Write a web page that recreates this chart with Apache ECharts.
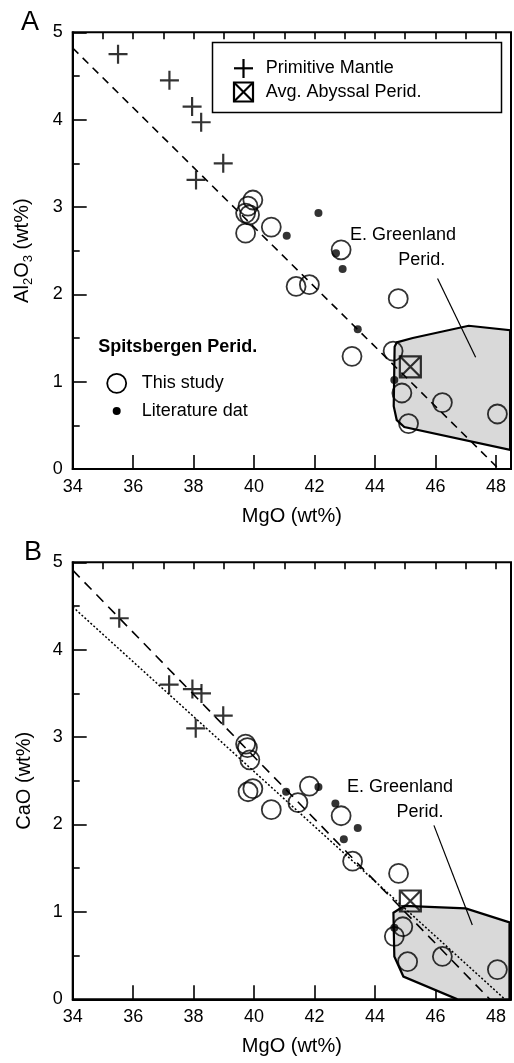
<!DOCTYPE html>
<html>
<head>
<meta charset="utf-8">
<script src="https://cdn.jsdelivr.net/npm/echarts@6/dist/echarts.min.js"></script>
<style>
  html, body { margin: 0; padding: 0; background: #fff; }
  #chart { width: 514px; height: 1063px; }
</style>
</head>
<body>
<div id="chart"></div>
<script>
// ---- panel A: Al2O3 vs MgO ----
const crossesA = [[35.5, 4.75], [37.2, 4.45], [37.95, 4.15], [38.25, 3.97], [38.98, 3.5], [38.08, 3.31]]
const abyssalA = [[45.17, 1.17]]
const circlesA = [
  [39.96, 3.08], [39.8, 3.01], [39.72, 2.93], [39.85, 2.91], [39.72, 2.7], [40.57, 2.77],
  [42.88, 2.51], [41.39, 2.09], [41.83, 2.11], [44.77, 1.95], [43.24, 1.29], [44.6, 1.35],
  [44.89, 0.87], [45.11, 0.52], [46.23, 0.76], [48.05, 0.63]
]
const dotsA = [[42.13, 2.93], [41.08, 2.67], [42.71, 2.47], [42.93, 2.29], [43.43, 1.6], [44.64, 1.02]]
const trendA = [[34, 4.82], [48.1, 0]]
const greenlandA = [
  [44.72, 1.45], [45.25, 1.5], [47.1, 1.64], [48.47, 1.59], [48.47, 0.22],
  [44.97, 0.48], [44.72, 0.56], [44.62, 0.72], [44.65, 1.4]
]
const leaderA = [[46.07, 2.18], [47.33, 1.28]]

// ---- panel B: CaO vs MgO ----
const crossesB = [[35.54, 4.36], [37.19, 3.6], [37.96, 3.55], [38.26, 3.5], [38.98, 3.245], [38.07, 3.1]]
const abyssalB = [[45.17, 1.125]]
const circlesB = [
  [39.72, 2.92], [39.78, 2.88], [39.86, 2.74], [39.8, 2.375], [39.96, 2.41], [40.57, 2.17],
  [41.45, 2.25], [41.83, 2.44], [42.88, 2.1], [43.26, 1.58], [44.78, 1.44], [44.64, 0.72],
  [44.92, 0.83], [45.08, 0.43], [46.23, 0.49], [48.05, 0.34]
]
const dotsB = [[41.06, 2.375], [42.13, 2.43], [42.69, 2.24], [43.43, 1.96], [42.97, 1.83], [44.64, 0.82]]
const trendDashB = [[34, 4.91], [47.8, 0]]
const trendDotB = [[34, 4.49], [48.3, 0]]
const greenlandB = [
  [44.61, 0.99], [44.97, 1.07], [47.0, 1.04], [48.45, 0.88], [48.45, 0],
  [46.73, 0], [44.94, 0.26], [44.64, 0.49]
]
const leaderB = [[45.95, 1.99], [47.22, 0.85]]

// axes
const mgoRange = [34, 48.5]
const oxideRange = [0, 5]

const FONT = '"Liberation Sans", Arial, Helvetica, sans-serif'
const crossPath = 'path://M5,0L5,10M0,5L10,5'
const boxPath = 'path://M0,0L10,0L10,10L0,10Z M0,0L10,10 M10,0L0,10'

const chart = echarts.init(document.getElementById('chart'))

function xAxes(gridIndex) {
  return [
    {
      gridIndex,
      type: 'value',
      min: mgoRange[0],
      max: mgoRange[1],
      interval: 2,
      name: 'MgO (wt%)',
      nameLocation: 'middle',
      nameGap: 37,
      nameTextStyle: { color: '#000', fontSize: 20, fontFamily: FONT },
      axisLine: { lineStyle: { color: '#000', width: 2 } },
      axisTick: { inside: true, length: 14, lineStyle: { color: '#000', width: 1.6 } },
      axisLabel: {
        color: '#000', fontSize: 18, fontFamily: FONT, margin: 9,
        formatter: v => (v % 2 === 0 ? String(v) : '')
      },
      splitLine: { show: false }
    },
    {
      gridIndex,
      type: 'value',
      min: mgoRange[0],
      max: mgoRange[1],
      interval: 1,
      axisLine: { show: false },
      axisTick: { inside: true, length: 7, lineStyle: { color: '#000', width: 1.6 } },
      axisLabel: { show: false },
      splitLine: { show: false }
    }
  ]
}

function yAxis(gridIndex, name, rich) {
  return {
    gridIndex,
    type: 'value',
    min: oxideRange[0],
    max: oxideRange[1],
    interval: 1,
    name,
    nameLocation: 'middle',
    nameGap: 38,
    nameTextStyle: { color: '#000', fontSize: 20, fontFamily: FONT, rich },
    axisLine: { lineStyle: { color: '#000', width: 2 } },
    axisTick: { inside: true, length: 14, lineStyle: { color: '#000', width: 1.6 } },
    minorTick: { show: true, splitNumber: 2, length: 7, lineStyle: { color: '#000', width: 1.6 } },
    axisLabel: { color: '#000', fontSize: 18, fontFamily: FONT, margin: 10 },
    splitLine: { show: false }
  }
}

const subRich = {
  a: { fontSize: 20, fontFamily: FONT, color: '#000', lineHeight: 24 },
  s: { fontSize: 13, fontFamily: FONT, color: '#000', lineHeight: 13, verticalAlign: 'bottom' }
}

function polygonSeries(points, xIdx, yIdx) {
  return {
    type: 'custom',
    xAxisIndex: xIdx,
    yAxisIndex: yIdx,
    silent: true,
    z: 1,
    data: points,
    renderItem(params, api) {
      if (params.dataIndex !== 0) return null
      return {
        type: 'polygon',
        shape: { points: points.map(p => api.coord(p)) },
        style: { fill: '#d9d9d9', stroke: '#000', lineWidth: 2.2 }
      }
    }
  }
}

function lineSeries(data, xIdx, yIdx, type, width) {
  return {
    type: 'line',
    xAxisIndex: xIdx,
    yAxisIndex: yIdx,
    data,
    symbol: 'none',
    silent: true,
    z: 3,
    lineStyle: { color: '#000', width, type }
  }
}

function panelSeries(x, y, crosses, abyssal, circles, dots) {
  return [
    {
      type: 'scatter', xAxisIndex: x, yAxisIndex: y, data: circles, z: 4,
      symbol: 'circle', symbolSize: 19,
      itemStyle: { color: 'rgba(0,0,0,0)', borderColor: '#000', borderWidth: 1.8 }
    },
    {
      type: 'scatter', xAxisIndex: x, yAxisIndex: y, data: dots, z: 5,
      symbol: 'circle', symbolSize: 8,
      itemStyle: { color: '#000' }
    },
    {
      type: 'scatter', xAxisIndex: x, yAxisIndex: y, data: crosses, z: 5,
      symbol: crossPath, symbolSize: 19,
      itemStyle: { color: 'rgba(0,0,0,0)', borderColor: '#000', borderWidth: 2.2 }
    },
    {
      type: 'scatter', xAxisIndex: x, yAxisIndex: y, data: abyssal, z: 6,
      symbol: boxPath, symbolSize: 21,
      itemStyle: { color: 'rgba(0,0,0,0)', borderColor: '#000', borderWidth: 2.2 }
    }
  ]
}

function txt(text, x, y, opts = {}) {
  return {
    type: 'text',
    z: 100,
    style: {
      text, x, y,
      font: (opts.weight || 'normal') + ' ' + (opts.size || 18) + 'px ' + FONT,
      fill: '#000',
      align: opts.align || 'left',
      verticalAlign: 'middle'
    }
  }
}

function seg(x1, y1, x2, y2, w) {
  return { type: 'line', z: 100, shape: { x1, y1, x2, y2 }, style: { stroke: '#000', lineWidth: w || 2.2 } }
}

const graphics = [
  txt('A', 30, 23, { size: 27, align: 'center' }),
  txt('B', 33, 553, { size: 27, align: 'center' }),
  // legend box
  { type: 'rect', z: 100, shape: { x: 212.5, y: 42.5, width: 289, height: 70 }, style: { fill: '#fff', stroke: '#000', lineWidth: 1.5 } },
  seg(234, 68.3, 253, 68.3), seg(243.5, 59, 243.5, 78),
  txt('Primitive Mantle', 265.7, 68.3),
  { type: 'rect', z: 100, shape: { x: 234, y: 82.5, width: 19, height: 19 }, style: { fill: 'none', stroke: '#000', lineWidth: 2.2 } },
  seg(234, 82.5, 253, 101.5), seg(253, 82.5, 234, 101.5),
  txt('Avg. Abyssal Perid.', 265.7, 92),
  // Spitsbergen legend
  txt('Spitsbergen Perid.', 98.3, 346.7, { weight: 'bold' }),
  { type: 'circle', z: 100, shape: { cx: 116.7, cy: 383.3, r: 9.5 }, style: { fill: 'none', stroke: '#000', lineWidth: 1.8 } },
  txt('This study', 141.7, 383.3),
  { type: 'circle', z: 100, shape: { cx: 116.7, cy: 411, r: 4 }, style: { fill: '#000' } },
  txt('Literature dat', 141.7, 411),
  // field labels
  txt('E. Greenland', 403, 235, { align: 'center' }),
  txt('Perid.', 421.7, 260, { align: 'center' }),
  txt('E. Greenland', 400, 786.7, { align: 'center' }),
  txt('Perid.', 420, 811.7, { align: 'center' })
]

chart.setOption({
  animation: false,
  backgroundColor: '#fff',
  grid: [
    { left: 72.7, top: 32.3, width: 438.3, height: 436.7, show: true, borderColor: '#000', borderWidth: 2, backgroundColor: 'transparent' },
    { left: 72.7, top: 562.3, width: 438.3, height: 437, show: true, borderColor: '#000', borderWidth: 2, backgroundColor: 'transparent' }
  ],
  xAxis: [...xAxes(0), ...xAxes(1)],
  yAxis: [
    yAxis(0, '{a|Al}{s|2}{a|O}{s|3}{a| (wt%)}', subRich),
    yAxis(1, 'CaO (wt%)')
  ],
  graphic: graphics,
  series: [
    polygonSeries(greenlandA, 0, 0),
    lineSeries(trendA, 0, 0, [8, 6], 1.6),
    lineSeries(leaderA, 0, 0, 'solid', 1.2),
    ...panelSeries(0, 0, crossesA, abyssalA, circlesA, dotsA),
    polygonSeries(greenlandB, 2, 1),
    lineSeries(trendDashB, 2, 1, [10, 7], 1.6),
    lineSeries(trendDotB, 2, 1, [2, 2], 1.5),
    lineSeries(leaderB, 2, 1, 'solid', 1.2),
    ...panelSeries(2, 1, crossesB, abyssalB, circlesB, dotsB)
  ]
})
</script>
</body>
</html>
